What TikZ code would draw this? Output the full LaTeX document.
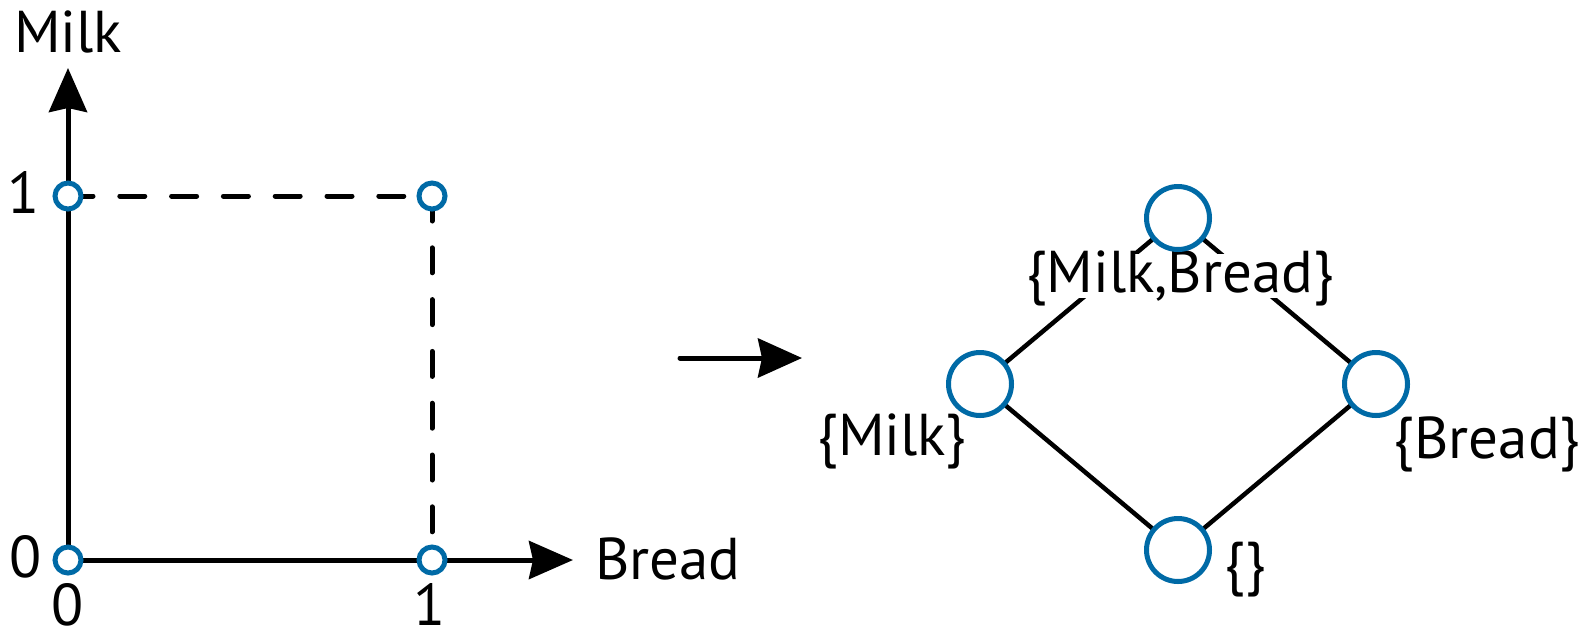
\documentclass[tikz,border=0pt]{standalone}
\usepackage{fontspec}
\setmainfont{PT Sans}
\usetikzlibrary{arrows.meta,backgrounds}
\definecolor{ringblue}{RGB}{0,106,166}
\begin{document}
\begin{tikzpicture}[x=1pt,y=-1pt,
  lbl/.style={inner sep=0pt, font=\fontsize{59}{63}\selectfont},
  dot/.style={circle, draw=ringblue, line width=5pt, fill=white, minimum size=26pt, inner sep=0pt},
  bigdot/.style={circle, draw=ringblue, line width=5pt, fill=white, minimum size=63pt, inner sep=0pt},
  axisline/.style={line width=5pt, -{Stealth[length=44pt,width=38pt,inset=4pt]}},
  guide/.style={line width=5pt, line cap=round, dash pattern=on 25pt off 26.8pt},
  edge/.style={line width=4.5pt}]
\useasboundingbox (0,0) rectangle (1586,633);

% grid points of the unit square
\node[dot] (p00) at (68,560) {};
\node[dot] (p01) at (68,196) {};
\node[dot] (p10) at (432,560) {};
\node[dot] (p11) at (432,196) {};
\coordinate (yend) at (68,68);
\coordinate (xend) at (573,560);

% axes and guides behind the points
\begin{pgfonlayer}{background}
  \draw[axisline] (p00.center) -- (yend);
  \draw[axisline] (p00.center) -- (xend);
  \draw[guide] (p01.center) -- (p11.center);
  \draw[guide] (p11.center) -- (p10.center);
\end{pgfonlayer}

% axis labels and ticks
\node[lbl, anchor=base west] (ylab) at (14,52) {Milk};
\node[lbl, anchor=base west] (xlab) at (595,579) {Bread};
\node[lbl, anchor=base] (t1y) at (24,213) {1};
\node[lbl, anchor=base] (t0y) at (26,577) {0};
\node[lbl, anchor=base] (t0x) at (68,625) {0};
\node[lbl, anchor=base] (t1x) at (430,625) {1};

% mapping arrow
\coordinate (mstart) at (680,358);
\coordinate (mend) at (802,358);
\draw[line width=5pt, line cap=round, -{Stealth[length=44pt,width=39pt,inset=4pt]}] (mstart) -- (mend);

% lattice of itemsets
\node[bigdot] (top) at (1178,218) {};
\node[bigdot] (lft) at (980,384) {};
\node[bigdot] (rgt) at (1376,384) {};
\node[bigdot] (bot) at (1178,550) {};
\begin{pgfonlayer}{background}
  \draw[edge] (top.center) -- (lft.center);
  \draw[edge] (top.center) -- (rgt.center);
  \draw[edge] (lft.center) -- (bot.center);
  \draw[edge] (rgt.center) -- (bot.center);
  % the top label masks the edges that pass behind it
  \node[lbl, anchor=base, fill=white, inner xsep=0pt, inner ysep=2pt, text height=36pt, text depth=4pt] (ltop) at (1180,292) {\{Milk,Bread\}};
\end{pgfonlayer}
\node[lbl, anchor=base] (llft) at (892,455) {\{Milk\}};
\node[lbl, anchor=base] (lrgt) at (1487,458) {\{Bread\}};
\node[lbl, anchor=base] (lbot) at (1245,583) {\{\}};
\end{tikzpicture}
\end{document}
